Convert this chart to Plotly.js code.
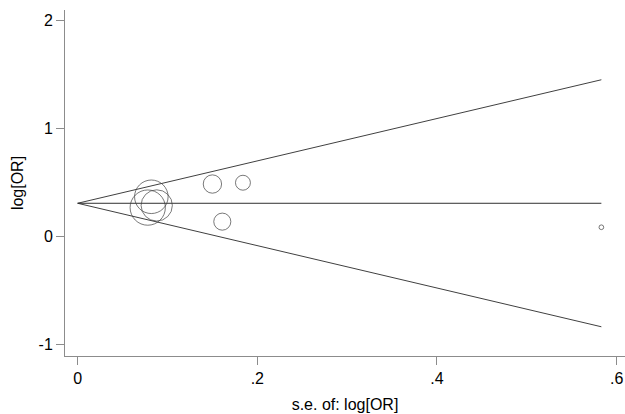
<!DOCTYPE html>
<html>
<head>
<meta charset="utf-8">
<script src="https://cdn.plot.ly/plotly-3.0.1.min.js"></script>
<style>
html,body{margin:0;padding:0;background:#fff;}
#chart{width:625px;height:414px;}
</style>
</head>
<body>
<div id="chart"></div>
<script>
// Study-level data
var seLogOR = [0.078, 0.082, 0.088, 0.150, 0.161, 0.184, 0.583];
var logOR   = [0.270, 0.370, 0.290, 0.488, 0.140, 0.500, 0.088];
// Pooled estimate (horizontal line)
var pooledLogOR = 0.31;
// Axis tick labels
var xTickVals = [0, 0.2, 0.4, 0.6];
var xTickText = ['0', '.2', '.4', '.6'];
var yTickVals = [-1, 0, 1, 2];
var yTickText = ['-1', '0', '1', '2'];

var maxSe = Math.max.apply(null, seLogOR);
var z = 1.96;
var sizeK = 2.75; // diameter proportional to 1/se (area ~ weight)
var sizes = seLogOR.map(function(s){ return sizeK / s; });

var lineStyle = {color: '#404040', width: 1};
var traces = [
  {x: [0, maxSe], y: [pooledLogOR, pooledLogOR + z * maxSe], mode: 'lines', line: lineStyle, hoverinfo: 'skip'},
  {x: [0, maxSe], y: [pooledLogOR, pooledLogOR - z * maxSe], mode: 'lines', line: lineStyle, hoverinfo: 'skip'},
  {x: [0, maxSe], y: [pooledLogOR, pooledLogOR], mode: 'lines', line: {color: '#303030', width: 1}, hoverinfo: 'skip'},
  {x: seLogOR, y: logOR, mode: 'markers',
   marker: {symbol: 'circle-open', size: sizes, sizemode: 'diameter', color: '#404040', line: {color: '#404040', width: 1}}}
];

var layout = {
  width: 625, height: 414,
  margin: {l: 65, r: 0, t: 10, b: 58, pad: 0},
  paper_bgcolor: '#fff', plot_bgcolor: '#fff',
  showlegend: false,
  font: {family: 'Liberation Sans, Arial, sans-serif', size: 16, color: '#000'},
  xaxis: {
    range: [-0.0141, 0.6093],
    tickvals: xTickVals, ticktext: xTickText,
    showline: true, linecolor: '#8c8c8c', linewidth: 1,
    ticks: 'outside', ticklen: 8, tickcolor: '#8c8c8c', tickwidth: 1,
    showgrid: false, zeroline: false,
    tickfont: {size: 16, color: '#000'},
    title: {text: 's.e. of: log[OR]', font: {size: 16, color: '#000'}, standoff: 12}
  },
  yaxis: {
    range: [-1.103, 2.098],
    tickvals: yTickVals, ticktext: yTickText,
    showline: true, linecolor: '#8c8c8c', linewidth: 1,
    ticks: 'outside', ticklen: 8, tickcolor: '#8c8c8c', tickwidth: 1,
    showgrid: false, zeroline: false,
    tickfont: {size: 16, color: '#000'},
    title: {text: 'log[OR]', font: {size: 16, color: '#000'}, standoff: 10}
  }
};

Plotly.newPlot('chart', traces, layout, {displayModeBar: false, staticPlot: true});
</script>
</body>
</html>
